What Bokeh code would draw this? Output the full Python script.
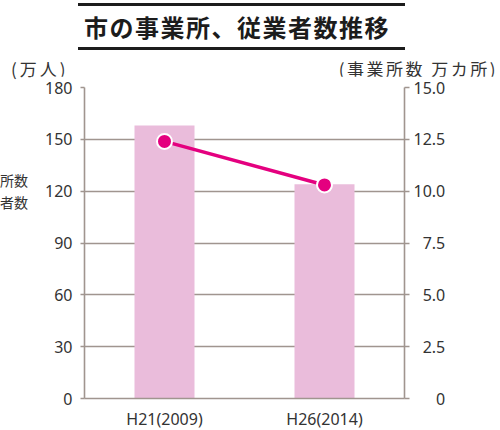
from bokeh.plotting import figure
from bokeh.models import (FactorRange, Range1d, LinearAxis, FixedTicker, Div)
from bokeh.layouts import column, row
from bokeh.embed import file_html
from bokeh.resources import INLINE

# ---- data ----
title_text = "市の事業所、従業者数推移"
categories = ["H21(2009)", "H26(2014)"]
employees = [158, 124]          # 万人 (bars, left axis)
establishments = [12.4, 10.3]   # 万カ所 (line, right axis)
left_ticks = [0, 30, 60, 90, 120, 150, 180]
right_ticks = [0, 2.5, 5.0, 7.5, 10.0, 12.5, 15.0]
right_tick_labels = ["\u2007\u2008\u20070", "\u20072.5", "\u20075.0", "\u20077.5", "10.0", "12.5", "15.0"]
left_unit = "(万人)"
right_unit = "(事業所数 万カ所)"
legend_fragments = ["所数", "者数"]

BAR = "#eabcdb"
LINE = "#e4007f"
AX = "#a0958f"
TXT = "#333333"
NUM_FONT = "Noto Sans"
CJK_FONT = "Noto Sans CJK JP"

TOP_H = 76
top_div = Div(
    text=(f'<div style="position:relative; width:500px; height:{TOP_H}px; font-family:\'{CJK_FONT}\';">'
          f'<div style="position:absolute; box-sizing:border-box; top:3px; left:78px; width:327px; '
          f'border-top:3px solid #1c1c1c; border-bottom:3px solid #1c1c1c; '
          f'line-height:41px; font-weight:bold; font-size:24px; letter-spacing:1.5px; '
          f'color:#1c1c1c; padding-left:6px; white-space:nowrap;">{title_text}</div>'
          f'<div style="position:absolute; top:61px; left:11px; line-height:15px; font-size:17px; '
          f'letter-spacing:3px; color:{TXT}; white-space:nowrap;">{left_unit}</div>'
          f'<div style="position:absolute; top:61px; right:2px; line-height:15px; font-size:17px; '
          f'letter-spacing:2.5px; color:{TXT}; white-space:nowrap;">{right_unit}</div>'
          f'</div>'),
    width=500, height=TOP_H, margin=(0, 0, 0, 0))

FIG_H = 430 - TOP_H
frag_div = Div(
    text=(f'<div style="position:relative; width:30px; height:{FIG_H}px; font-family:\'{CJK_FONT}\'; '
          f'font-size:14px; color:{TXT};">'
          f'<div style="position:absolute; top:{170 - TOP_H}px; left:0px; line-height:20px; white-space:nowrap;">'
          f'{legend_fragments[0]}</div>'
          f'<div style="position:absolute; top:{192 - TOP_H}px; left:0px; line-height:20px; white-space:nowrap;">'
          f'{legend_fragments[1]}</div></div>'),
    width=30, height=FIG_H, margin=(0, 0, 0, 0))

p = figure(x_range=FactorRange(factors=categories, range_padding=0),
           y_range=Range1d(0, 180),
           frame_width=320, frame_height=311,
           min_border_left=54, min_border_right=96, min_border_top=87 - TOP_H,
           min_border_bottom=FIG_H - 311 - (87 - TOP_H),
           output_backend="svg", toolbar_location=None, title=None, margin=(0, 0, 0, 0))
p.extra_y_ranges = {"right": Range1d(0, 15)}

p.outline_line_color = None
p.background_fill_color = "white"
p.border_fill_color = "white"

p.xgrid.grid_line_color = None
p.ygrid.grid_line_color = AX
p.ygrid.grid_line_width = 1.6
p.ygrid.ticker = FixedTicker(ticks=left_ticks)

# left axis
la = p.yaxis[0]
la.ticker = FixedTicker(ticks=left_ticks)
la.axis_line_color = AX
la.axis_line_width = 1.6
la.major_tick_line_color = AX
la.major_tick_line_width = 1.6
la.major_tick_in = 0
la.major_tick_out = 4
la.minor_tick_line_color = None
la.major_label_standoff = 8
la.major_label_text_font = NUM_FONT
la.major_label_text_font_size = "16px"
la.major_label_text_color = TXT

# bottom axis
xa = p.xaxis[0]
xa.axis_line_color = AX
xa.axis_line_width = 1.6
xa.major_tick_line_color = None
xa.major_tick_in = 0
xa.major_tick_out = 0
xa.major_label_standoff = 9
xa.major_label_text_font = NUM_FONT
xa.major_label_text_font_size = "16px"
xa.major_label_text_color = TXT

# right axis
ra = LinearAxis(y_range_name="right", ticker=FixedTicker(ticks=right_ticks),
                major_label_overrides={t: s for t, s in zip(right_ticks, right_tick_labels)})
ra.axis_line_color = AX
ra.axis_line_width = 1.6
ra.major_tick_line_color = AX
ra.major_tick_line_width = 1.6
ra.major_tick_in = 0
ra.major_tick_out = 5
ra.minor_tick_line_color = None
ra.major_label_standoff = 4
ra.major_label_text_font = NUM_FONT
ra.major_label_text_font_size = "16px"
ra.major_label_text_color = TXT
p.add_layout(ra, "right")

# bars
p.vbar(x=categories, top=employees, width=0.375, fill_color=BAR, line_color=None)

# line + markers
p.line(x=categories, y=establishments, y_range_name="right", line_color=LINE, line_width=3.5)
p.scatter(x=categories, y=establishments, y_range_name="right", size=15,
          fill_color=LINE, line_color="white", line_width=2)

layout = column(top_div, row(frag_div, p, spacing=0), spacing=0)
open("out.html", "w").write(file_html(layout, INLINE))
